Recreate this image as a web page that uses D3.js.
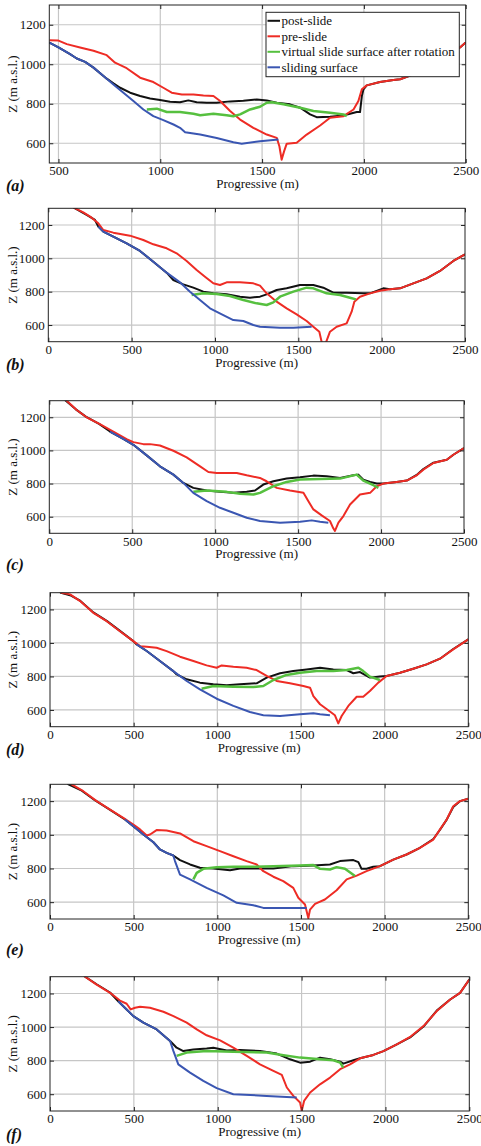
<!DOCTYPE html>
<html>
<head>
<meta charset="utf-8">
<script src="https://cdn.jsdelivr.net/npm/d3@7"></script>
<style>
  body { margin: 0; background: #fff; }
  svg { display: block; }
  svg text { font-family: "Liberation Serif", "DejaVu Serif", serif; fill: #111; }
</style>
</head>
<body>
<svg id="chart" width="481" height="1146"></svg>
<script>
// profile data, [progressive (m), Z (m a.s.l.)]
const xTicks = [0, 500, 1000, 1500, 2000, 2500];
const yTicks = [600, 800, 1000, 1200];
const tags = ["(a)", "(b)", "(c)", "(d)", "(e)", "(f)"];
const seriesNames = ["post-slide", "pre-slide", "virtual slide surface after rotation", "sliding surface"];

// (a)
const postA = [[455,1110],[500,1085],[557,1051],[590,1029],[631,1012],[672,983],[721,941],[737,927],[770,903],[803,881],[852,856],[901,839],[950,827],[999,819],[1048,810],[1097,808],[1138,817],[1179,808],[1228,805],[1277,805],[1343,812],[1408,815],[1474,822],[1523,817],[1572,805],[1637,797],[1687,780],[1736,746],[1768,732],[1834,734],[1900,741],[1932,749],[1965,758],[1981,758],[1990,839],[1998,873],[2014,893],[2079,910],[2145,920],[2178,924],[2243,949],[2320,990],[2400,1040],[2472,1085],[2500,1110]];
const preA = [[455,1122],[500,1120],[541,1102],[606,1085],[672,1068],[737,1046],[778,1008],[835,980],[901,932],[966,910],[1015,881],[1056,856],[1106,847],[1163,847],[1212,842],[1261,839],[1294,814],[1343,763],[1392,720],[1457,678],[1523,644],[1572,627],[1585,585],[1596,517],[1608,559],[1621,598],[1670,602],[1719,644],[1785,690],[1834,729],[1900,737],[1949,771],[1973,814],[1990,873],[2014,893],[2079,910],[2145,920],[2178,924],[2243,949],[2320,990],[2400,1040],[2472,1085],[2500,1110]];
const virtA = [[934,771],[983,775],[1032,758],[1097,758],[1163,749],[1196,742],[1261,749],[1326,742],[1359,737],[1392,746],[1441,771],[1490,785],[1523,805],[1548,808],[1605,797],[1687,780],[1752,763],[1834,754],[1900,746],[1916,737]];
const slideA = [[455,1110],[500,1085],[557,1051],[590,1029],[631,1012],[672,983],[721,941],[770,898],[819,856],[868,814],[917,771],[966,737],[1015,717],[1065,695],[1097,678],[1122,656],[1196,644],[1277,627],[1359,605],[1400,598],[1490,610],[1580,619]];

// (b)
const postB = [[150,1305],[230,1260],[280,1230],[300,1190],[330,1160],[390,1130],[470,1090],[550,1044],[630,980],[710,914],[750,870],[810,844],[870,824],[930,800],[990,790],[1070,784],[1150,770],[1210,764],[1270,770],[1310,784],[1370,810],[1430,820],[1510,840],[1590,840],[1650,824],[1710,794],[1790,794],[1890,790],[1930,790],[2010,820],[2050,814],[2110,820],[2190,850],[2270,880],[2350,924],[2430,984],[2500,1024]];
const preB = [[150,1305],[210,1276],[260,1244],[300,1210],[330,1170],[390,1154],[490,1136],[570,1110],[630,1084],[710,1060],[770,1030],[830,984],[890,930],[940,890],[990,850],[1030,840],[1070,856],[1150,856],[1230,850],[1270,836],[1310,790],[1370,740],[1430,700],[1490,664],[1550,624],[1590,590],[1626,560],[1642,490],[1652,470],[1664,490],[1690,560],[1730,590],[1790,610],[1820,680],[1836,740],[1870,770],[1930,790],[1990,806],[2050,814],[2110,820],[2190,850],[2270,880],[2350,924],[2430,984],[2500,1024]];
const virtB = [[860,780],[930,790],[1010,786],[1090,774],[1170,750],[1250,730],[1310,720],[1350,736],[1390,770],[1470,800],[1550,824],[1590,820],[1670,790],[1750,780],[1810,764],[1846,754]];
const slideB = [[300,1190],[330,1160],[390,1130],[470,1090],[550,1044],[630,980],[710,914],[790,856],[850,800],[910,750],[970,700],[1050,660],[1110,630],[1170,624],[1230,600],[1270,590],[1390,584],[1470,584],[1580,590]];

// (c)
const postC = [[90,1310],[100,1300],[160,1248],[220,1204],[300,1160],[366,1114],[446,1070],[507,1034],[587,970],[667,904],[748,854],[808,804],[868,774],[949,758],[1029,750],[1110,744],[1190,750],[1240,758],[1290,794],[1351,814],[1431,830],[1512,838],[1592,848],[1672,844],[1753,834],[1833,850],[1863,854],[1893,824],[1934,810],[1974,800],[2014,800],[2094,810],[2155,818],[2215,852],[2255,888],[2316,926],[2396,944],[2436,974],[2500,1014]];
const preC = [[95,1310],[105,1300],[165,1244],[225,1200],[305,1158],[386,1114],[466,1068],[507,1050],[567,1038],[607,1038],[667,1030],[748,998],[828,958],[909,904],[959,870],[1009,864],[1130,864],[1190,850],[1270,834],[1310,814],[1371,774],[1451,758],[1532,744],[1562,694],[1592,644],[1642,608],[1692,574],[1712,530],[1722,514],[1743,564],[1773,604],[1813,674],[1873,734],[1934,744],[1974,784],[2014,800],[2094,810],[2155,818],[2215,850],[2255,884],[2316,924],[2396,944],[2436,974],[2500,1014]];
const virtC = [[868,750],[949,758],[1069,750],[1150,738],[1230,734],[1270,744],[1351,784],[1431,810],[1512,824],[1632,828],[1753,830],[1853,854],[1893,818],[1954,790],[1984,774]];
const slideC = [[366,1114],[446,1070],[507,1034],[587,970],[667,904],[748,854],[808,804],[868,744],[949,694],[1029,654],[1110,624],[1190,594],[1270,574],[1391,564],[1512,570],[1582,578],[1632,570],[1682,564]];

// (d)
const postD = [[55,1310],[65,1300],[120,1285],[180,1252],[259,1182],[339,1132],[418,1072],[498,1011],[518,991],[578,952],[657,892],[737,832],[757,812],[817,783],[896,763],[976,753],[1056,747],[1135,753],[1235,759],[1295,793],[1375,819],[1454,832],[1534,842],[1614,852],[1693,842],[1773,838],[1813,819],[1853,826],[1912,793],[1972,799],[2012,803],[2092,822],[2171,846],[2251,872],[2331,906],[2410,964],[2500,1021]];
const preD = [[60,1310],[70,1300],[120,1290],[180,1250],[259,1180],[339,1130],[418,1070],[498,1011],[538,981],[578,977],[637,971],[697,951],[777,918],[857,892],[936,866],[996,852],[1026,866],[1096,858],[1175,852],[1235,838],[1295,803],[1355,773],[1434,759],[1514,743],[1554,733],[1574,683],[1614,634],[1663,598],[1703,568],[1723,520],[1743,564],[1783,624],[1833,679],[1872,679],[1912,713],[1962,763],[2012,803],[2092,822],[2171,846],[2251,872],[2331,906],[2410,962],[2500,1021]];
const virtD = [[906,727],[976,743],[1096,739],[1215,737],[1275,743],[1335,779],[1414,809],[1494,822],[1594,832],[1693,832],[1773,838],[1843,852],[1872,832],[1912,799],[1972,779]];
const slideD = [[518,991],[578,952],[657,892],[737,832],[817,773],[896,723],[996,667],[1096,624],[1195,588],[1275,568],[1375,564],[1494,574],[1574,580],[1614,574],[1673,568]];

// (e)
const postE = [[100,1310],[110,1300],[190,1262],[270,1204],[350,1154],[448,1091],[498,1051],[558,1002],[618,956],[657,913],[697,893],[737,877],[777,850],[837,824],[896,804],[976,800],[1076,790],[1135,800],[1255,800],[1335,800],[1454,814],[1574,818],[1673,824],[1733,844],[1813,850],[1843,838],[1862,798],[1892,798],[1932,810],[1972,814],[2052,853],[2131,883],[2211,923],[2291,975],[2331,1030],[2371,1090],[2410,1165],[2450,1200],[2500,1214]];
const preE = [[120,1310],[129,1300],[199,1259],[279,1200],[359,1150],[438,1101],[498,1061],[538,1032],[578,996],[598,1002],[637,1028],[697,1026],[777,1008],[857,962],[936,933],[1016,903],[1096,873],[1175,844],[1235,824],[1275,784],[1335,751],[1394,725],[1454,685],[1484,626],[1524,586],[1544,505],[1554,556],[1584,590],[1643,616],[1713,671],[1773,735],[1833,758],[1892,784],[1972,814],[2052,853],[2131,883],[2211,923],[2291,972],[2331,1032],[2371,1091],[2410,1170],[2450,1200],[2500,1214]];
const virtE = [[857,735],[877,774],[916,798],[996,808],[1096,810],[1215,810],[1335,814],[1494,818],[1574,820],[1614,798],[1673,794],[1713,808],[1763,798],[1823,755]];
const slideE = [[448,1091],[498,1051],[558,1002],[618,956],[657,913],[697,893],[737,877],[747,844],[777,764],[837,735],[936,685],[1036,640],[1116,596],[1215,582],[1275,566],[1394,566],[1534,566]];

// (f)
const postF = [[200,1310],[209,1300],[278,1255],[358,1206],[407,1154],[457,1105],[497,1065],[557,1026],[636,986],[716,917],[755,877],[795,857],[855,867],[934,873],[974,877],[1054,861],[1133,863],[1252,857],[1352,842],[1431,808],[1491,788],[1551,794],[1610,818],[1670,808],[1730,794],[1749,782],[1809,802],[1849,814],[1928,834],[1988,857],[2068,897],[2147,938],[2227,1003],[2306,1098],[2386,1164],[2445,1204],[2500,1283]];
const preF = [[200,1310],[209,1300],[278,1253],[358,1204],[417,1158],[457,1139],[481,1105],[507,1115],[537,1121],[596,1115],[676,1091],[736,1065],[815,1026],[875,986],[934,951],[1014,921],[1093,877],[1173,828],[1252,778],[1332,739],[1382,715],[1412,640],[1451,590],[1491,551],[1501,501],[1515,560],[1551,610],[1610,659],[1670,699],[1730,749],[1789,778],[1849,814],[1928,834],[1988,857],[2068,897],[2147,941],[2227,1006],[2306,1095],[2386,1164],[2445,1204],[2500,1283]];
const virtF = [[755,828],[815,848],[934,857],[1093,853],[1292,848],[1392,832],[1491,818],[1610,808],[1690,802],[1730,788],[1749,758]];
const slideF = [[407,1154],[457,1105],[497,1065],[557,1026],[636,986],[716,917],[736,857],[765,778],[835,729],[914,679],[994,636],[1093,600],[1292,590],[1471,580]];

const profiles = [
    [postA, preA, virtA, slideA],
    [postB, preB, virtB, slideB],
    [postC, preC, virtC, slideC],
    [postD, preD, virtD, slideD],
    [postE, preE, virtE, slideE],
    [postF, preF, virtF, slideF]
];

// panel frames on the page (pixels)
const frames = [
    { left: 49.3, right: 465.7, top: 5,     bottom: 163,   x0: 455, tagY: 191 },
    { left: 48.3, right: 465,   top: 208.3, bottom: 341.7, x0: 0,   tagY: 370 },
    { left: 49.3, right: 464,   top: 400.7, bottom: 533.3, x0: 0,   tagY: 570 },
    { left: 50,   right: 468.3, top: 592.7, bottom: 726.7, x0: 0,   tagY: 755 },
    { left: 50,   right: 468.3, top: 784.3, bottom: 919,   x0: 0,   tagY: 955 },
    { left: 50,   right: 469.3, top: 976.7, bottom: 1111,  x0: 0,   tagY: 1140 }
];

const colors = ["#111111", "#ee2c25", "#56c03f", "#3a56b2"];
const widths = [2, 2, 2.5, 2];
const svg = d3.select("#chart");

frames.forEach((f, i) => {
    const x = d3.scaleLinear().domain([f.x0, 2500]).range([f.left, f.right]);
    const y = d3.scaleLinear().domain([500, 1300]).range([f.bottom, f.top]);
    const g = svg.append("g");
    const xt = xTicks.filter(t => t >= f.x0);

    // grid
    g.selectAll(".gx").data(xt.filter(t => t > f.x0 && t < 2500)).join("line")
        .attr("x1", d => x(d)).attr("x2", d => x(d))
        .attr("y1", f.top).attr("y2", f.bottom)
        .attr("stroke", "#c6c6c6").attr("stroke-width", 1.2);
    g.selectAll(".gy").data(yTicks).join("line")
        .attr("x1", f.left).attr("x2", f.right)
        .attr("y1", d => y(d)).attr("y2", d => y(d))
        .attr("stroke", "#c6c6c6").attr("stroke-width", 1.2);

    // curves
    const clipId = "clip" + i;
    g.append("clipPath").attr("id", clipId).append("rect")
        .attr("x", f.left).attr("y", f.top)
        .attr("width", f.right - f.left).attr("height", f.bottom - f.top);
    const line = d3.line().x(d => x(d[0])).y(d => y(d[1]));
    profiles[i].forEach((pts, k) => {
        g.append("path")
            .attr("d", line(pts))
            .attr("clip-path", `url(#${clipId})`)
            .attr("fill", "none")
            .attr("stroke", colors[k])
            .attr("stroke-width", widths[k])
            .attr("stroke-linejoin", "round");
    });

    // axes, matlab style ticks pointing inward
    const fmt = d3.format("d");
    const ax = [
        [d3.axisBottom(x).tickValues(xt).tickSize(-4).tickPadding(3).tickFormat(fmt), 0, f.bottom],
        [d3.axisTop(x).tickValues(xt).tickSize(-4).tickFormat(""), 0, f.top],
        [d3.axisLeft(y).tickValues(yTicks).tickSize(-4).tickPadding(3.5).tickFormat(fmt), f.left, 0],
        [d3.axisRight(y).tickValues(yTicks).tickSize(-4).tickFormat(""), f.right, 0]
    ];
    ax.forEach(([axis, tx, ty]) => {
        const a = g.append("g").attr("transform", `translate(${tx},${ty})`).call(axis);
        a.select(".domain").remove();
        a.attr("font-family", null).attr("font-size", 13);
        a.selectAll("line").attr("stroke", "#222");
    });

    g.append("rect")
        .attr("x", f.left).attr("y", f.top)
        .attr("width", f.right - f.left).attr("height", f.bottom - f.top)
        .attr("fill", "none").attr("stroke", "#222").attr("stroke-width", 1);

    g.append("text")
        .attr("x", (f.left + f.right) / 2).attr("y", f.bottom + 25)
        .attr("text-anchor", "middle").attr("font-size", 13)
        .text("Progressive (m)");
    g.append("text")
        .attr("transform", `translate(16.5,${(f.top + f.bottom) / 2}) rotate(-90)`)
        .attr("text-anchor", "middle").attr("font-size", 13)
        .text("Z (m a.s.l.)");
    g.append("text")
        .attr("x", 6).attr("y", f.tagY)
        .attr("font-size", 16)
        .attr("font-weight", "bold").attr("font-style", "italic")
        .text(tags[i]);
});

// legend, panel (a) only
const lg = svg.append("g").attr("transform", "translate(266,12.3)");
lg.append("rect").attr("width", 193.3).attr("height", 64.4)
    .attr("fill", "#fff").attr("stroke", "#222").attr("stroke-width", 1);
seriesNames.forEach((name, k) => {
    const cy = 8.5 + k * 15.5;
    lg.append("line").attr("x1", 1.5).attr("x2", 14)
        .attr("y1", cy).attr("y2", cy)
        .attr("stroke", colors[k]).attr("stroke-width", 2);
    lg.append("text").attr("x", 15.5).attr("y", cy + 4.5)
        .attr("font-size", 13)
        .text(name);
});
</script>
</body>
</html>
